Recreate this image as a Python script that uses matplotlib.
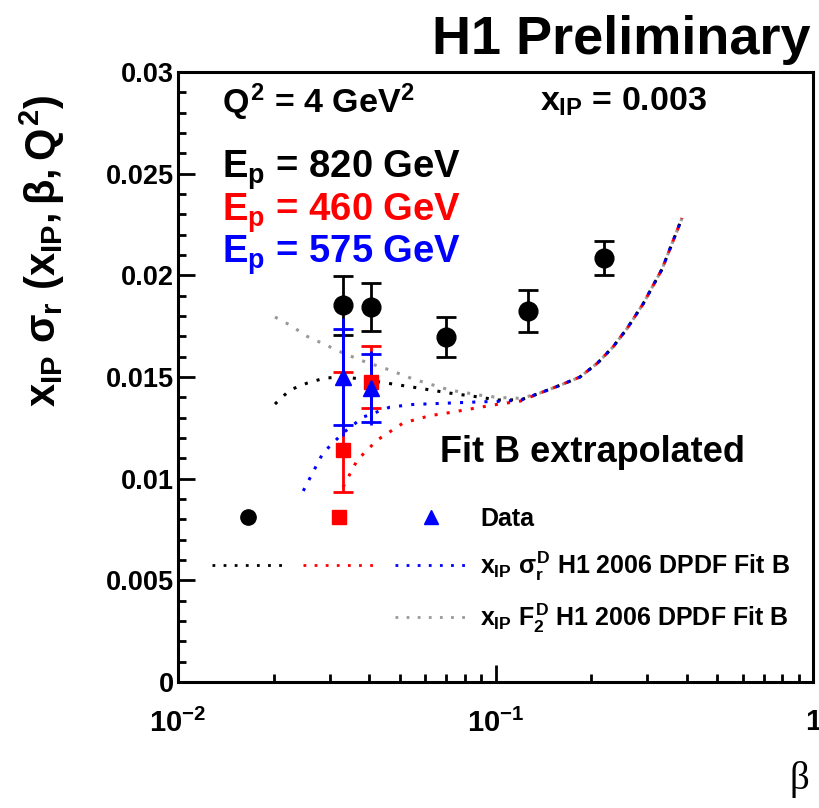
import numpy as np
import matplotlib
matplotlib.use("Agg")
import matplotlib.pyplot as plt
from matplotlib.lines import Line2D
from matplotlib.legend_handler import HandlerTuple

# fonts: bold Helvetica-like everywhere, mathtext too
plt.rcParams['font.family'] = ['Liberation Sans', 'DejaVu Sans']
plt.rcParams['font.weight'] = 'bold'
plt.rcParams['mathtext.fontset'] = 'custom'
plt.rcParams['mathtext.rm'] = 'Liberation Sans:bold'
plt.rcParams['mathtext.it'] = 'Liberation Sans:bold'
plt.rcParams['mathtext.bf'] = 'Liberation Sans:bold'

# data points, Ep = 820 / 460 / 575 GeV
beta_820 = [0.0331, 0.0406, 0.070, 0.1266, 0.220]
sig_820 = [0.01854, 0.01844, 0.01697, 0.01825, 0.02085]
err_820 = [0.00145, 0.00120, 0.00100, 0.00105, 0.00085]

beta_460 = [0.0331, 0.0406]
sig_460 = [0.01141, 0.01475]
err_460_lo = [0.00207, 0.00127]
err_460_hi = [0.00384, 0.00177]

beta_575 = [0.0331, 0.0406]
sig_575 = [0.01500, 0.01446]
stat_575 = [0.00235, 0.00165]
tot_575 = [0.00290, 0.00180]

# Fit B curves
fit_beta_820 = [0.0202, 0.0225, 0.0255, 0.029, 0.0331, 0.038, 0.0455, 0.055, 0.0717, 0.09, 0.101, 0.12,
                0.138, 0.16, 0.1845, 0.21, 0.2344, 0.26, 0.2917, 0.3344, 0.3867]
fit_820 = [0.01367, 0.01436, 0.0147, 0.01495, 0.0150, 0.0149, 0.0147, 0.0145, 0.01421, 0.0140, 0.01387, 0.01388,
           0.01421, 0.0146, 0.0150, 0.0157, 0.01648, 0.0174, 0.0186, 0.0203, 0.02282]

fit_beta_460 = [0.0331, 0.0367, 0.0424, 0.0512, 0.0622, 0.0717, 0.09, 0.101, 0.12,
                0.138, 0.16, 0.1845, 0.21, 0.2344, 0.26, 0.2917, 0.3344, 0.3867]
fit_460 = [0.00959, 0.01092, 0.0119, 0.01274, 0.0131, 0.01325, 0.01352, 0.01365, 0.01382,
           0.01421, 0.0146, 0.0150, 0.0157, 0.01648, 0.0174, 0.0186, 0.0203, 0.02282]

fit_beta_575 = [0.0248, 0.0286, 0.0331, 0.0383, 0.0465, 0.055, 0.0717, 0.09, 0.101, 0.12,
                0.138, 0.16, 0.1845, 0.21, 0.2344, 0.26, 0.2917, 0.3344, 0.3867]
fit_575 = [0.0094, 0.01126, 0.01225, 0.01303, 0.01352, 0.01365, 0.01372, 0.01378, 0.0138, 0.01386,
           0.01421, 0.0146, 0.0150, 0.0157, 0.01648, 0.0174, 0.0186, 0.0203, 0.02282]

f2_beta = [0.0202, 0.0225, 0.0255, 0.029, 0.0331, 0.038, 0.0465, 0.055, 0.0717, 0.09, 0.101, 0.12,
           0.138, 0.16, 0.1845, 0.21, 0.2344, 0.26, 0.2917, 0.3344, 0.3867]
f2_820 = [0.01795, 0.01756, 0.0170, 0.0166, 0.01618, 0.0158, 0.01534, 0.0149, 0.01436, 0.0141, 0.0140, 0.01395,
          0.01421, 0.0146, 0.0150, 0.0157, 0.01648, 0.0174, 0.0186, 0.0203, 0.02282]

yticks = [0, 0.005, 0.01, 0.015, 0.02, 0.025, 0.03]
ytick_labels = ['0', '0.005', '0.01', '0.015', '0.02', '0.025', '0.03']
xticks = [0.01, 0.1, 1]
xtick_labels = [r'$10^{-2}$', r'$10^{-1}$', '1']

fig = plt.figure(figsize=(8.2, 8.08), dpi=100)
ax = fig.add_axes([0.2171, 0.1559, 0.7744, 0.755])

dots = (0, (1, 3))
ax.plot(f2_beta, f2_820, color='#999999', ls=dots, lw=2.2)
ax.plot(fit_beta_820, fit_820, color='black', ls=dots, lw=2.2)
ax.plot(fit_beta_460, fit_460, color='red', ls=dots, lw=2.2)
ax.plot(fit_beta_575, fit_575, color='blue', ls=dots, lw=2.2)

ax.errorbar(beta_820, sig_820, yerr=err_820, fmt='o', color='black', ms=13.5,
            elinewidth=2, capsize=7, capthick=2)
ax.errorbar(beta_460, sig_460, yerr=[err_460_lo, err_460_hi], fmt='s', color='red', ms=10,
            elinewidth=2, capsize=7, capthick=2)
ax.errorbar(beta_575, sig_575, yerr=tot_575, fmt='none', ecolor='blue', elinewidth=2)
ax.errorbar(beta_575, sig_575, yerr=stat_575, fmt='^', color='blue', ms=11,
            elinewidth=2, capsize=7, capthick=2)

ax.set_xscale('log')
ax.set_xlim(0.01, 1)
ax.set_ylim(0, 0.03)
ax.set_xticks(xticks)
ax.set_xticklabels(xtick_labels)
ax.set_yticks(yticks)
ax.set_yticklabels(ytick_labels)
ax.yaxis.set_minor_locator(matplotlib.ticker.MultipleLocator(0.001))
ax.tick_params(which='both', direction='in', top=False, right=False, width=2, labelsize=19.5)
ax.tick_params(axis='x', labelsize=21)
ax.tick_params(which='major', length=12)
ax.tick_params(which='minor', length=6)
ax.tick_params(axis='x', pad=19)
ax.tick_params(axis='y', pad=3)
for sp in ax.spines.values():
    sp.set_linewidth(2.2)

# annotations
ax.text(0.069, 0.951, r'$Q^2$ = 4 GeV$^2$', transform=ax.transAxes, fontsize=24.5, va='center')
ax.text(0.570, 0.951, r'$x_{IP}$ = 0.003', transform=ax.transAxes, fontsize=24.5, va='center')
ax.text(0.069, 0.839, r'$E_p$ = 820 GeV', transform=ax.transAxes, fontsize=27.5, va='center', color='black')
ax.text(0.069, 0.768, r'$E_p$ = 460 GeV', transform=ax.transAxes, fontsize=27.5, va='center', color='red')
ax.text(0.069, 0.699, r'$E_p$ = 575 GeV', transform=ax.transAxes, fontsize=27.5, va='center', color='blue')
ax.text(0.413, 0.377, 'Fit B extrapolated', transform=ax.transAxes, fontsize=26, va='center')

fig.text(0.988, 0.950, 'H1 Preliminary', fontsize=39, ha='right', va='center')
fig.text(0.975, 0.035, 'β', fontsize=28, ha='center', va='center', family='Liberation Serif', weight='normal')
fig.text(0.052, 0.69, r'$x_{IP}\ \sigma_r\ (x_{IP}, \beta, Q^2)$', fontsize=30, rotation=90, ha='center', va='center')

# legend in ROOT style: three symbol columns, then the text
none = Line2D([], [], ls='none')
h_data = (Line2D([], [], marker='o', color='black', ls='none', ms=11),
          Line2D([], [], marker='s', color='red', ls='none', ms=10),
          Line2D([], [], marker='^', color='blue', ls='none', ms=10))
h_sig = (Line2D([], [], color='black', ls=dots, lw=2),
         Line2D([], [], color='red', ls=dots, lw=2),
         Line2D([], [], color='blue', ls=dots, lw=2))
h_f2 = (none, none, Line2D([], [], color='#999999', ls=dots, lw=2))
ax.legend([h_data, h_sig, h_f2],
          ['Data', r'$x_{IP}\ \sigma_r^D$ H1 2006 DPDF Fit B', r'$x_{IP}\ F_2^D$ H1 2006 DPDF Fit B'],
          handler_map={tuple: HandlerTuple(ndivide=None, pad=0.76)},
          loc='upper left', bbox_to_anchor=(0.0535, 0.287), frameon=False, fontsize=18,
          handlelength=10.2, handletextpad=0.52, labelspacing=0.74, borderpad=0, borderaxespad=0)

fig.savefig('out.png', dpi=100)
